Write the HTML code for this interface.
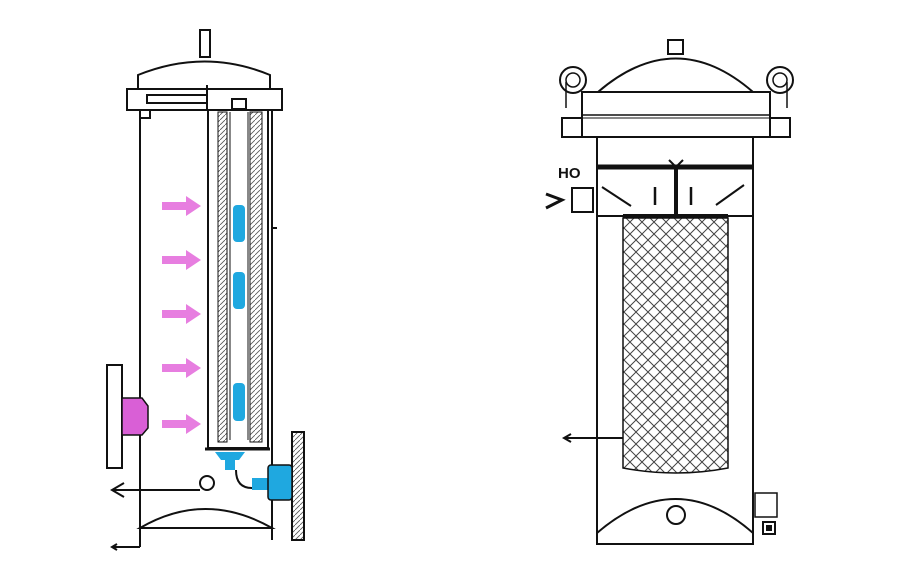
<!DOCTYPE html>
<html><head><meta charset="utf-8"><style>
html,body{margin:0;padding:0;background:#fff;}
svg{display:block;}
</style></head><body>
<svg width="913" height="574" viewBox="0 0 913 574" xmlns="http://www.w3.org/2000/svg">
<defs>
<pattern id="hatch" width="12" height="12" patternUnits="userSpaceOnUse">
<path d="M0 0 L12 12 M12 0 L0 12 M-3 9 L3 15 M9 -3 L15 3" stroke="#444" stroke-width="1"/>
</pattern>
<pattern id="hatch2" width="5" height="5" patternUnits="userSpaceOnUse">
<path d="M0 5 L5 0" stroke="#555" stroke-width="0.8"/>
</pattern>
</defs>
<rect width="913" height="574" fill="#fff"/>
<g fill="none" stroke="#111" stroke-width="2">
<!-- LEFT -->
<rect x="200" y="30" width="10" height="27" fill="#fff"/>
<path d="M138 88 L138 75 Q205 48 270 75 L270 88"/>
<rect x="127" y="89" width="155" height="21" fill="#fff"/>
<rect x="147" y="95" width="60" height="8"/>
<line x1="207" y1="85" x2="207" y2="110"/>
<rect x="232" y="99" width="14" height="10"/>
<rect x="140" y="110" width="10" height="8"/>
<line x1="140" y1="110" x2="140" y2="547"/>
<line x1="272" y1="110" x2="272" y2="540"/>
<line x1="272" y1="228" x2="277" y2="228"/>
<rect x="208" y="110" width="60" height="338"/>
<rect x="218" y="112" width="9" height="330" fill="url(#hatch2)" stroke-width="1"/>
<rect x="250" y="112" width="12" height="330" fill="url(#hatch2)" stroke-width="1"/>
<line x1="230" y1="112" x2="230" y2="440" stroke-width="1"/>
<line x1="248" y1="112" x2="248" y2="440" stroke-width="1"/>
<line x1="205" y1="449" x2="270" y2="449" stroke-width="3"/>
<rect x="107" y="365" width="15" height="103" fill="#fff"/>
<rect x="292" y="432" width="12" height="108" fill="url(#hatch2)"/>
<circle cx="207" cy="483" r="7" fill="#fff"/>
<line x1="200" y1="490" x2="112" y2="490"/>
<path d="M124 483 L112 490 L124 497"/>
<path d="M140 528 Q205 490 272 528 Z"/>
<line x1="140" y1="547" x2="112" y2="547"/>
<path d="M117 544 L112 547 L117 550"/>
<path d="M236 470 Q236 488 252 488 L268 488"/>
</g>
<!-- pink arrows -->
<g fill="#e77ee0">
<path d="M162 202 h24 v-6 l15 10 l-15 10 v-6 h-24z"/>
<path d="M162 256 h24 v-6 l15 10 l-15 10 v-6 h-24z"/>
<path d="M162 310 h24 v-6 l15 10 l-15 10 v-6 h-24z"/>
<path d="M162 364 h24 v-6 l15 10 l-15 10 v-6 h-24z"/>
<path d="M162 420 h24 v-6 l15 10 l-15 10 v-6 h-24z"/>
</g>
<path d="M122 398 L142 398 L148 406 L148 428 L142 435 L122 435Z" fill="#d95fd6" stroke="#111" stroke-width="1.5"/>
<!-- blue -->
<g fill="#1fa8e0">
<rect x="233" y="205" width="12" height="37" rx="4"/>
<rect x="233" y="272" width="12" height="37" rx="4"/>
<rect x="233" y="383" width="12" height="38" rx="4"/>
<path d="M215 452 h30 l-6 8 h-4 v10 h-10 v-10 h-4z"/>
<rect x="252" y="478" width="18" height="12"/>
</g>
<rect x="268" y="465" width="24" height="35" rx="3" fill="#1fa8e0" stroke="#111" stroke-width="1.5"/>
<!-- RIGHT -->
<g fill="none" stroke="#111" stroke-width="2">
<rect x="668" y="40" width="15" height="14" fill="#fff"/>
<path d="M598 92 Q676 25 753 92"/>
<rect x="582" y="92" width="188" height="45" fill="#fff"/>
<line x1="582" y1="115" x2="770" y2="115" stroke-width="1.5"/>
<line x1="582" y1="118" x2="770" y2="118" stroke-width="1"/>
<circle cx="573" cy="80" r="13"/>
<circle cx="573" cy="80" r="7" stroke-width="1.5"/>
<circle cx="780" cy="80" r="13"/>
<circle cx="780" cy="80" r="7" stroke-width="1.5"/>
<line x1="566" y1="82" x2="566" y2="108" stroke-width="1.5"/>
<line x1="787" y1="82" x2="787" y2="108" stroke-width="1.5"/>
<rect x="562" y="118" width="20" height="19"/>
<rect x="770" y="118" width="20" height="19"/>
<line x1="597" y1="137" x2="597" y2="545"/>
<line x1="753" y1="137" x2="753" y2="545"/>
<line x1="597" y1="167" x2="753" y2="167" stroke-width="5"/>
<line x1="676" y1="167" x2="676" y2="216" stroke-width="4"/>
<path d="M669 160 L676 167 L683 160"/>
<line x1="597" y1="216" x2="753" y2="216" stroke-width="2"/>
<line x1="623" y1="216" x2="728" y2="216" stroke-width="4"/>
<rect x="572" y="188" width="21" height="24" fill="#fff"/>
<path d="M546 194 L562 200 L546 208" stroke-width="3"/>
<line x1="602" y1="187" x2="631" y2="206" stroke-width="2"/>
<line x1="744" y1="185" x2="716" y2="205" stroke-width="2"/>
<line x1="655" y1="187" x2="655" y2="205" stroke-width="2.5"/>
<line x1="691" y1="187" x2="691" y2="205" stroke-width="2.5"/>
<path d="M623 218 L728 218 L728 468 Q676 478 623 468 Z" fill="url(#hatch)" stroke-width="1.5"/>
<line x1="623" y1="438" x2="565" y2="438"/>
<path d="M571 434 L564 438 L571 442"/>
<path d="M597 533 Q676 465 753 533"/>
<line x1="597" y1="544" x2="753" y2="544"/>
<circle cx="676" cy="515" r="9"/>
<rect x="755" y="493" width="22" height="24" stroke-width="1.5"/>
<rect x="763" y="522" width="12" height="12" stroke-width="2"/>
<rect x="767" y="526" width="4" height="4" fill="#111"/>
</g>
<text x="558" y="178" font-family="Liberation Sans, sans-serif" font-size="15" font-weight="bold" fill="#111">HO</text>
</svg>
</body></html>
